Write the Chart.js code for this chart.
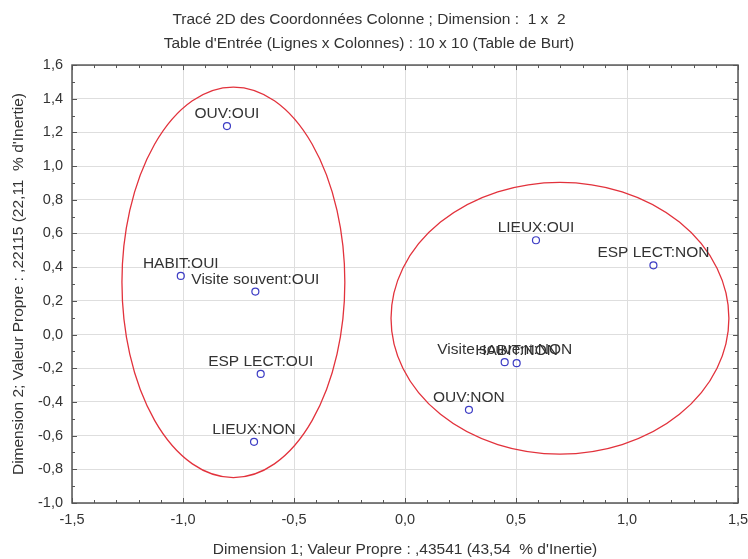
<!DOCTYPE html>
<html>
<head>
<meta charset="utf-8">
<script src="https://cdn.jsdelivr.net/npm/chart.js@4.4.0/dist/chart.umd.min.js"></script>
<style>
  html, body { margin: 0; padding: 0; background: #fff; }
  #wrap { width: 748px; height: 559px; }
</style>
</head>
<body>
<div id="wrap"><canvas id="myChart"></canvas></div>
<script>
// column coordinates
var pointLabels = ["OUV:OUI", "HABIT:OUI", "Visite souvent:OUI", "ESP LECT:OUI", "LIEUX:NON",
  "LIEUX:OUI", "ESP LECT:NON", "Visite souvent:NON", "HABIT:NON", "OUV:NON"];
var dim1 = [-0.802, -1.010, -0.674, -0.650, -0.680, 0.590, 1.119, 0.449, 0.503, 0.288];
var dim2 = [1.238, 0.348, 0.255, -0.234, -0.637, 0.560, 0.411, -0.164, -0.170, -0.447];

// the two red groupings (centre and half-axes, in axis units)
var ellipseCx = [-0.773, 0.698];
var ellipseCy = [0.310, 0.097];
var ellipseRx = [0.502, 0.761];
var ellipseRy = [1.159, 0.807];

var titleLines = [
  "Tracé 2D des Coordonnées Colonne ; Dimension :  1 x  2",
  "Table d'Entrée (Lignes x Colonnes) : 10 x 10 (Table de Burt)",
];
var xTitle = "Dimension 1; Valeur Propre : ,43541 (43,54  % d'Inertie)";
var yTitle = "Dimension 2; Valeur Propre : ,22115 (22,11  % d'Inertie)";

var fontFamily = "'Liberation Sans', Arial, sans-serif";
var textColor = "#333";

fmt = (v) => v.toFixed(1).replace(".", ",");

var ellipsePlugin = {
  id: "ellipses",
  beforeDatasetsDraw: (chart) => {
    const ctx = chart.ctx;
    const xs = chart.scales.x;
    const ys = chart.scales.y;
    ctx.save();
    ctx.strokeStyle = "#e2323c";
    ctx.lineWidth = 1.3;
    for (let i = 0; i < ellipseCx.length; i++) {
      const cx = xs.getPixelForValue(ellipseCx[i]);
      const cy = ys.getPixelForValue(ellipseCy[i]);
      const rx = Math.abs(xs.getPixelForValue(ellipseCx[i] + ellipseRx[i]) - cx);
      const ry = Math.abs(ys.getPixelForValue(ellipseCy[i] + ellipseRy[i]) - cy);
      ctx.beginPath();
      ctx.ellipse(cx, cy, rx, ry, 0, 0, Math.PI * 2);
      ctx.stroke();
    }
    ctx.restore();
  },
};

var framePlugin = {
  id: "frame",
  afterDraw: (chart) => {
    const ctx = chart.ctx;
    const a = chart.chartArea;
    const xs = chart.scales.x;
    const ys = chart.scales.y;
    ctx.save();
    ctx.strokeStyle = "#555";
    ctx.lineWidth = 1;
    // small inward ticks every 0.1 on all four sides
    ctx.beginPath();
    for (let k = -15; k <= 15; k++) {
      const px = Math.round(xs.getPixelForValue(k / 10)) + 0.5;
      const len = k % 5 === 0 ? 5 : 3;
      ctx.moveTo(px, a.bottom); ctx.lineTo(px, a.bottom - len);
      ctx.moveTo(px, a.top); ctx.lineTo(px, a.top + len);
    }
    for (let k = -10; k <= 16; k++) {
      const py = Math.round(ys.getPixelForValue(k / 10)) + 0.5;
      const len = k % 2 === 0 ? 5 : 3;
      ctx.moveTo(a.left, py); ctx.lineTo(a.left + len, py);
      ctx.moveTo(a.right, py); ctx.lineTo(a.right - len, py);
    }
    ctx.stroke();
    ctx.lineWidth = 1.5;
    ctx.strokeRect(a.left, a.top, a.right - a.left, a.bottom - a.top);
    ctx.restore();
  },
};

var labelPlugin = {
  id: "pointLabels",
  afterDatasetsDraw: (chart) => {
    const ctx = chart.ctx;
    const meta = chart.getDatasetMeta(0);
    ctx.save();
    ctx.font = "15.5px " + fontFamily;
    ctx.fillStyle = textColor;
    ctx.textAlign = "center";
    ctx.textBaseline = "alphabetic";
    meta.data.forEach((el, i) => {
      ctx.fillText(pointLabels[i], el.x, el.y - 8);
    });
    ctx.restore();
  },
};

createChart = () => {
  const ctx = document.getElementById("myChart").getContext("2d");
  new Chart(ctx, {
    type: "scatter",
    data: {
      datasets: [
        {
          data: dim1.map((x, i) => ({ x: x, y: dim2[i] })),
          pointStyle: "circle",
          pointRadius: 3.5,
          backgroundColor: "rgba(255,255,255,0)",
          borderColor: "#3c3cc4",
          borderWidth: 1.2,
          showLine: false,
        },
      ],
    },
    options: {
      responsive: true,
      maintainAspectRatio: false,
      animation: false,
      layout: { padding: { right: 10 } },
      plugins: {
        legend: { display: false },
        tooltip: { enabled: false },
        title: {
          display: true,
          text: titleLines,
          color: textColor,
          font: { family: fontFamily, size: 15.5, weight: "normal", lineHeight: 1.55 },
          padding: { top: 8, bottom: 9 },
        },
      },
      scales: {
        x: {
          type: "linear",
          min: -1.5,
          max: 1.5,
          afterFit: (s) => {
            s.height = 56;
            s.paddingLeft = 0;
            s.paddingRight = 0;
          },
          ticks: {
            stepSize: 0.5,
            padding: 8,
            color: textColor,
            font: { family: fontFamily, size: 14.5 },
            callback: (v) => fmt(v),
          },
          grid: { color: "#dedede", drawTicks: false },
          border: { display: false },
          title: {
            display: true,
            text: xTitle,
            color: textColor,
            font: { family: fontFamily, size: 15.5 },
            padding: { top: 0, bottom: 0 },
          },
        },
        y: {
          type: "linear",
          min: -1.0,
          max: 1.6,
          afterFit: (s) => { s.width = 72; },
          ticks: {
            stepSize: 0.2,
            padding: 9,
            color: textColor,
            font: { family: fontFamily, size: 14.5 },
            callback: (v) => fmt(v),
          },
          grid: { color: "#dedede", drawTicks: false },
          border: { display: false },
          title: {
            display: true,
            text: yTitle,
            color: textColor,
            font: { family: fontFamily, size: 15.5 },
            padding: { top: 9, bottom: 0 },
          },
        },
      },
    },
    plugins: [ellipsePlugin, labelPlugin, framePlugin],
  });
};

createChart();
</script>
</body>
</html>
